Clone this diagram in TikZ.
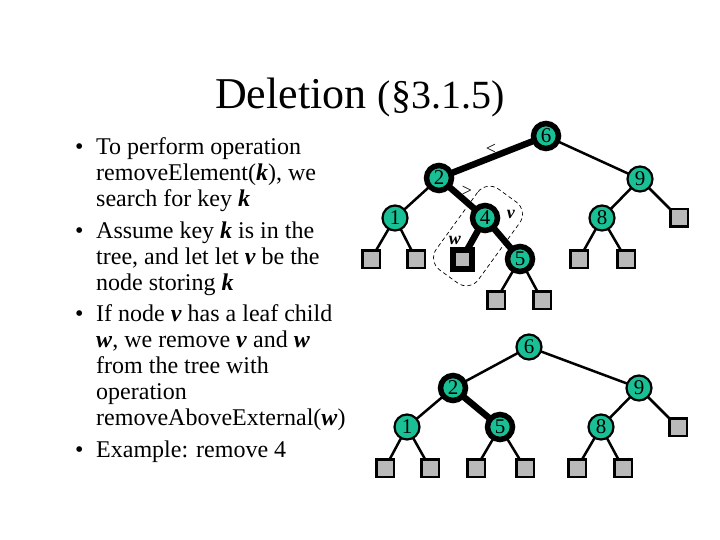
\documentclass[tikz,border=0pt]{standalone}
\usepackage{fontspec}
\setmainfont{Liberation Serif}
\usetikzlibrary{backgrounds}
\definecolor{tealnode}{RGB}{25,192,150}
\definecolor{leafgray}{RGB}{185,185,185}
\newcommand\bik[1]{\textbf{\textit{#1}}}
\begin{document}
\begin{tikzpicture}[x=1pt,y=-1pt,
  inn/.style={circle, draw, fill=tealnode, line width=2.2pt, minimum size=25pt, inner sep=0pt, font=\fontsize{21}{21}\selectfont},
  innb/.style={inn, line width=5.5pt, minimum size=25pt},
  leaf/.style={rectangle, draw, fill=leafgray, line width=2.5pt, minimum size=17.5pt, inner sep=0pt},
  leafb/.style={leaf, line width=6pt, minimum size=19pt},
  ed/.style={line width=2.5pt},
  edb/.style={line width=6.5pt},
  txt/.style={anchor=base west, inner sep=0pt, font=\fontsize{24}{26}\selectfont},
  marklbl/.style={inner sep=0pt, font=\fontsize{18}{18}\selectfont},
]
\useasboundingbox (0,0) rectangle (720,540);

% title
\node[anchor=base west, inner sep=0pt] (title) at (215,109)
  {\fontsize{44}{48}\selectfont Deletion {\fontsize{40}{44}\selectfont (§3.1.5)}};

% bullet text
\node[txt] (b1) at (75,155) {\textbullet};
\node[txt] (l1) at (96,155) {To perform operation};
\node[txt] (l2) at (96,181) {removeElement(\bik{k}), we};
\node[txt] (l3) at (96,207) {search for key \bik{k}};
\node[txt] (b2) at (75,238) {\textbullet};
\node[txt] (l4) at (96,238) {Assume key \bik{k} is in the};
\node[txt] (l5) at (96,264) {tree, and let let \bik{v} be the};
\node[txt] (l6) at (96,290) {node storing \bik{k}};
\node[txt] (b3) at (75,321) {\textbullet};
\node[txt] (l7) at (96,321) {If node \bik{v} has a leaf child};
\node[txt] (l8) at (96,347) {\bik{w}, we remove \bik{v} and \bik{w}};
\node[txt] (l9) at (96,373) {from the tree with};
\node[txt] (l10) at (96,399) {operation};
\node[txt] (l11) at (96,425) {removeAboveExternal(\bik{w})};
\node[txt] (b4) at (75,457) {\textbullet};
\node[txt] (l12) at (96,457) {Example: remove 4};

% ---------- top tree ----------
\node[innb] (t6) at (546,136) {6};
\node[innb] (t2) at (439,178) {2};
\node[inn]  (t9) at (640,179) {9};
\node[inn]  (t1) at (395,218) {1};
\node[innb] (t4) at (485,218) {4};
\node[inn]  (t8) at (602,218) {8};
\node[leaf] (t9r) at (679,218) {};
\node[leaf] (t1a) at (371,259) {};
\node[leaf] (t1b) at (416,259) {};
\node[leafb] (tw) at (462,259) {};
\node[innb] (t5) at (520,259) {5};
\node[leaf] (t8a) at (579,259) {};
\node[leaf] (t8b) at (626,259) {};
\node[leaf] (t5a) at (496,300) {};
\node[leaf] (t5b) at (542,300) {};

\node[marklbl] (lt) at (491,149) {<};
\node[marklbl] (gt) at (467,191) {>};
\node[marklbl] (vl) at (511,214) {\bik{v}};
\node[marklbl] (wl) at (455,240) {\bik{w}};
\node[draw, dashed, dash pattern=on 4pt off 3pt, line width=0.7pt, rounded corners=15pt,
      minimum width=100pt, minimum height=52pt, rotate=54] (vwbox) at (478,236) {};

% ---------- bottom tree ----------
\node[inn]  (u6) at (529,347) {6};
\node[innb] (u2) at (453,388) {2};
\node[inn]  (u9) at (639,388) {9};
\node[inn]  (u1) at (407,427) {1};
\node[innb] (u5) at (500,427) {5};
\node[inn]  (u8) at (601,427) {8};
\node[leaf] (u9r) at (678,427) {};
\node[leaf] (u1a) at (385,468) {};
\node[leaf] (u1b) at (430,468) {};
\node[leaf] (u5a) at (476,468) {};
\node[leaf] (u5b) at (525,468) {};
\node[leaf] (u8a) at (577,468) {};
\node[leaf] (u8b) at (623,468) {};

\begin{scope}[on background layer]
  \draw[edb] (t6.center) -- (t2.center);
  \draw[ed]  (t6.center) -- (t9.center);
  \draw[ed]  (t2.center) -- (t1.center);
  \draw[edb] (t2.center) -- (t4.center);
  \draw[ed]  (t1.center) -- (t1a.center);
  \draw[ed]  (t1.center) -- (t1b.center);
  \draw[edb] (t4.center) -- (tw.center);
  \draw[edb] (t4.center) -- (t5.center);
  \draw[ed]  (t5.center) -- (t5a.center);
  \draw[ed]  (t5.center) -- (t5b.center);
  \draw[ed]  (t9.center) -- (t8.center);
  \draw[ed]  (t9.center) -- (t9r.center);
  \draw[ed]  (t8.center) -- (t8a.center);
  \draw[ed]  (t8.center) -- (t8b.center);

  \draw[ed]  (u6.center) -- (u2.center);
  \draw[ed]  (u6.center) -- (u9.center);
  \draw[ed]  (u2.center) -- (u1.center);
  \draw[edb] (u2.center) -- (u5.center);
  \draw[ed]  (u1.center) -- (u1a.center);
  \draw[ed]  (u1.center) -- (u1b.center);
  \draw[ed]  (u5.center) -- (u5a.center);
  \draw[ed]  (u5.center) -- (u5b.center);
  \draw[ed]  (u9.center) -- (u8.center);
  \draw[ed]  (u9.center) -- (u9r.center);
  \draw[ed]  (u8.center) -- (u8a.center);
  \draw[ed]  (u8.center) -- (u8b.center);
\end{scope}
\end{tikzpicture}
\end{document}
